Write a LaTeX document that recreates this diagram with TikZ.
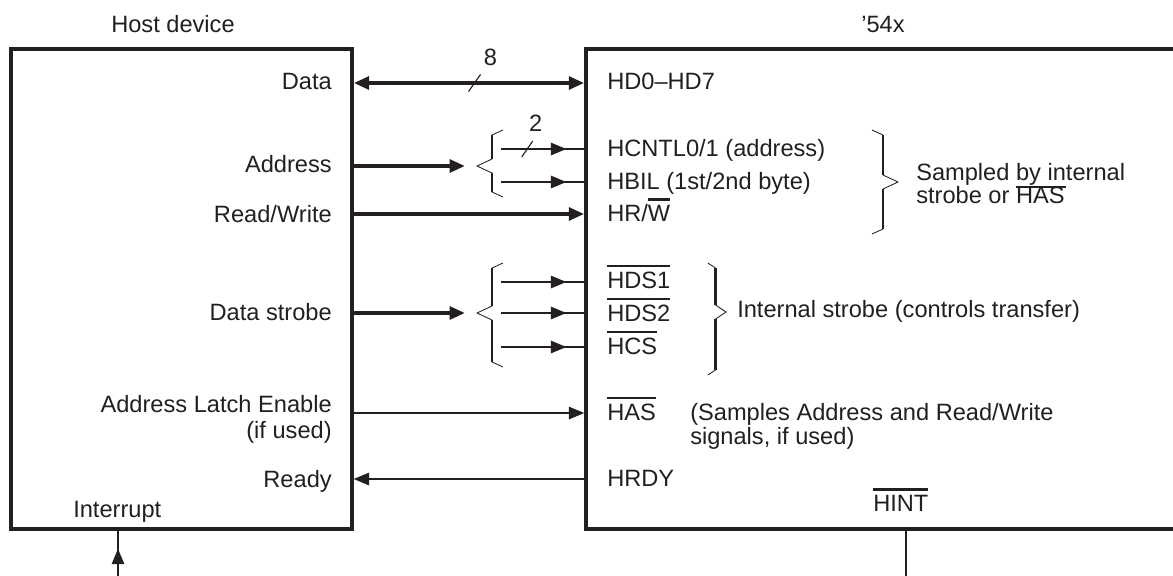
\documentclass[tikz,border=0pt]{standalone}
\usepackage{fontspec}
\setmainfont{Liberation Sans}
\usetikzlibrary{positioning,arrows.meta,decorations.markings}

\definecolor{ink}{HTML}{231F20}
\newcommand\figfont{\fontsize{16.8pt}{18.5pt}\selectfont}
\newcommand\ovbar[1]{\leavevmode\vbox{\hrule height 1.8pt\kern 3pt\hbox{#1}}}
\newcommand\unbar[1]{\leavevmode\vtop{\hbox{#1}\kern 0.5pt\hrule height 1.5pt}}

\begin{document}
\begin{tikzpicture}[x=0.025cm, y=-0.025cm, color=ink,
  every node/.style={font=\figfont, text=ink, inner sep=0pt},
  box/.style={draw, line width=2.4pt, minimum height=12cm},
  bus/.style={draw, line width=3.2pt},
  sig/.style={draw, line width=0.8pt},
  brline/.style={draw, line width=1.5pt},
  tip/.style={-{Triangle[length=11pt,width=9pt]}},
  midtip/.style={postaction={decorate}, decoration={markings,
    mark=at position -0.45cm with {\arrow{Triangle[length=11pt,width=9pt]}}}},
  pics/brace/.style 2 args={code={
    \draw[sig, line width=0.6pt] (26,-#1) -- (15,-#1+5);
    \draw[brline] (15,-#1+5) -- (15,-7);
    \draw[sig, line width=0.6pt] (15,-7) -- (0,0) -- (15,7);
    \draw[brline] (15,7) -- (15,#2-5);
    \draw[sig, line width=0.6pt] (15,#2-5) -- (26,#2);
  }}
]
  \useasboundingbox (0,0) rectangle (1173,575);

  % the two devices
  \node[box, minimum width=8.525cm] (host) at (181.5,289) {};
  \node[box, minimum width=16.6cm] (dsp) at (918,289) {};
  \node[anchor=base] (tHost) at (173,32) {Host device};
  \node[anchor=base] (tDsp) at (883,32) {'54x};

  % host side labels
  \node[anchor=base east] (lData) at (332,89.5) {Data};
  \node[anchor=base east] (lAddr) at (332,172) {Address};
  \node[anchor=base east] (lRW) at (332,222) {Read/Write};
  \node[anchor=base east] (lStrobe) at (332,320) {Data strobe};
  \node[anchor=base east] (lAle) at (332,412) {Address Latch Enable};
  \node[anchor=base east] (lAle2) at (332,438) {(if used)};
  \node[anchor=base east] (lReady) at (332,487) {Ready};
  \node[anchor=base west] (lInt) at (73,517) {Interrupt};

  % '54x side labels
  \node[anchor=base west] (pHD) at (607,89) {HD0--HD7};
  \node[anchor=base west] (pCntl) at (607,156) {HCNTL0/1 (address)};
  \node[anchor=base west] (pBil) at (607,189) {HBIL (1st/2nd byte)};
  \node[anchor=base west] (pRW) at (607,221) {HR/\ovbar{W}};
  \node[anchor=base west] (pDs1) at (607,288) {\ovbar{HDS1}};
  \node[anchor=base west] (pDs2) at (607,321) {\ovbar{HDS2}};
  \node[anchor=base west] (pCs) at (607,354) {\ovbar{HCS}};
  \node[anchor=base west] (pHas) at (607,420) {\ovbar{HAS}};
  \node[anchor=base west] (pRdy) at (607,486) {HRDY};
  \node[anchor=base west] (pInt) at (873,511) {\ovbar{HINT}};
  \node[anchor=base west] (nHas) at (690,420) {(Samples Address and Read/Write};
  \node[anchor=base west] (nHas2) at (690,444) {signals, if used)};
  \node[anchor=base west] (nSmp) at (916,180) {Sampled \unbar{by in}ternal};
  \node[anchor=base west] (nSmp2) at (916,203.5) {strobe or HAS};
  \node[anchor=base west] (nStr) at (737,317) {Internal strobe (controls transfer)};

  % rows
  \coordinate (rData) at (0,83);
  \coordinate (aBr) at (477,166);
  \coordinate (rRW) at (0,214);
  \coordinate (sBr) at (477,313);
  \coordinate (rAle) at (0,413);
  \coordinate (rReady) at (0,479);
  \coordinate (hcntl) at (501,149);
  \coordinate (hbil) at (501,182);
  \coordinate (ds1) at (501,282);
  \coordinate (ds2) at (501,313);
  \coordinate (ds3) at (501,347);
  \coordinate (intB) at (118,580);
  \coordinate (hintB) at (906,580);

  % data bus
  \draw[bus, {Triangle[length=11pt,width=9pt]}-{Triangle[length=11pt,width=9pt]}]
    (host.east |- rData) -- coordinate[pos=0.524] (dMid) (dsp.west |- rData);
  \draw[sig] (dMid) ++(-6,8.5) -- ++(12,-17);
  \node (n8) at ([shift={(16,-26)}]dMid) {8};

  % address
  \draw[bus, tip, shorten >=8.5pt] (host.east |- aBr) -- (aBr);
  \pic at (aBr) {brace={36}{31}};
  \draw[sig, midtip] (hcntl) -- coordinate[pos=0.315] (aMid) (dsp.west |- hcntl);
  \draw[sig] (aMid) ++(-5.5,8) -- ++(11,-16);
  \node (n2) at ([shift={(8.5,-26)}]aMid) {2};
  \draw[sig, midtip] (hbil) -- (dsp.west |- hbil);
  \draw[bus, tip] (host.east |- rRW) -- (dsp.west |- rRW);

  % strobes
  \draw[bus, tip, shorten >=8.5pt] (host.east |- sBr) -- (sBr);
  \pic at (sBr) {brace={50}{54}};
  \foreach \r in {ds1,ds2,ds3}
    \draw[sig, midtip] (\r) -- (dsp.west |- \r);
  \pic[xscale=-1] at (898,182) {brace={52}{52}};
  \pic[xscale=-0.7] at (726,312) {brace={49}{63}};

  % latch, ready, interrupt
  \draw[sig, tip] (host.east |- rAle) -- (dsp.west |- rAle);
  \draw[sig, tip] (dsp.west |- rReady) -- (host.east |- rReady);
  \draw[sig, midtip] (intB) -- (host.south -| intB);
  \draw[sig] (dsp.south -| hintB) -- (hintB);
\end{tikzpicture}
\end{document}
